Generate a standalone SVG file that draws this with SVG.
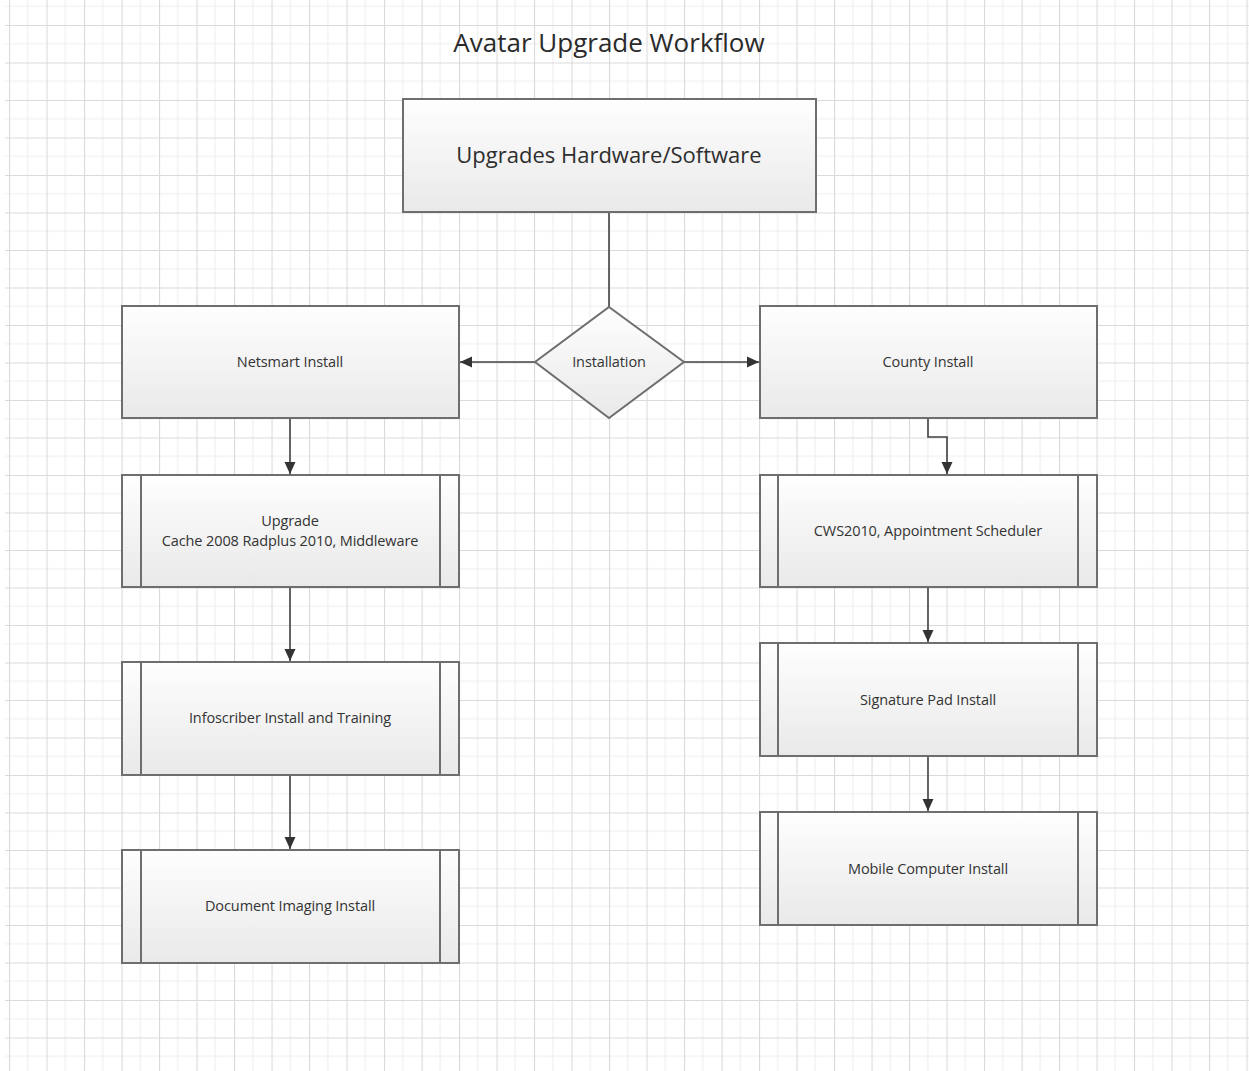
<svg xmlns="http://www.w3.org/2000/svg" width="1249" height="1071" viewBox="0 0 1249 1071">
<defs>
<pattern id="grid" patternUnits="userSpaceOnUse" x="9" y="25" width="37.5" height="37.5">
<path d="M18.75 0V37.5M0 18.75H37.5" stroke="#eeeeee" stroke-width="1.2" fill="none"/>
<path d="M0.5 0V37.5M0 0.5H37.5" stroke="#dadada" stroke-width="1.2" fill="none"/>
</pattern>
<linearGradient id="fill" x1="0" y1="0" x2="0" y2="1">
<stop offset="0" stop-color="#fefefe"/>
<stop offset="1" stop-color="#e9e9e9"/>
</linearGradient>
<marker id="arrow" viewBox="0 0 12 12" refX="12" refY="6" markerWidth="12" markerHeight="12" markerUnits="userSpaceOnUse" orient="auto">
<path d="M0 0.5L12 6L0 11.5z" fill="#333333"/>
</marker>
</defs>
<style>
.box{fill:url(#fill);stroke:#6e6e6e;stroke-width:2}
.inner{stroke:#6e6e6e;stroke-width:2;fill:none}
.lbl{font-family:"Open Sans","Noto Sans",sans-serif;font-size:14.5px;fill:#333333;text-anchor:middle;letter-spacing:-0.1px}
.conn{stroke:#404040;stroke-width:1.6;fill:none}
.arr{marker-end:url(#arrow)}
</style>
<rect width="1249" height="1071" fill="#ffffff"/>
<rect x="5" y="0" width="1244" height="1071" fill="url(#grid)"/>
<text x="609" y="52" font-family="'Open Sans','Noto Sans',sans-serif" font-size="26" fill="#2a2a2a" text-anchor="middle">Avatar Upgrade Workflow</text>

<g id="connectors">
<path class="conn" d="M609 212V307"/>
<path class="conn arr" d="M535 362H460"/>
<path class="conn arr" d="M684 362H759"/>
<path class="conn arr" d="M290 419V474"/>
<path class="conn arr" d="M290 588V661"/>
<path class="conn arr" d="M290 776V849"/>
<path class="conn arr" d="M928 419V437H947V474"/>
<path class="conn arr" d="M928 588V642"/>
<path class="conn arr" d="M928 757V811"/>
</g>

<g id="node-top">
<rect class="box" x="403" y="99" width="413" height="113"/>
<text x="609" y="163" font-family="'Open Sans','Noto Sans',sans-serif" font-size="22" fill="#2e2e2e" text-anchor="middle">Upgrades Hardware/Software</text>
</g>
<g id="node-installation">
<path class="box" d="M609 307L684 362L609 418L535 362Z"/>
<text class="lbl" x="609" y="367">Installation</text>
</g>
<g id="node-netsmart">
<rect class="box" x="122" y="306" width="337" height="112"/>
<text class="lbl" x="290" y="367">Netsmart Install</text>
</g>
<g id="node-county">
<rect class="box" x="760" y="306" width="337" height="112"/>
<text class="lbl" x="928" y="367">County Install</text>
</g>
<g id="node-upgrade">
<rect class="box" x="122" y="475" width="337" height="112"/>
<path class="inner" d="M141 475V587M440 475V587"/>
<text class="lbl" x="290" y="526">Upgrade</text>
<text class="lbl" x="290" y="546">Cache 2008 Radplus 2010, Middleware</text>
</g>
<g id="node-infoscriber">
<rect class="box" x="122" y="662" width="337" height="113"/>
<path class="inner" d="M141 662V775M440 662V775"/>
<text class="lbl" x="290" y="723">Infoscriber Install and Training</text>
</g>
<g id="node-docimaging">
<rect class="box" x="122" y="850" width="337" height="113"/>
<path class="inner" d="M141 850V963M440 850V963"/>
<text class="lbl" x="290" y="911">Document Imaging Install</text>
</g>
<g id="node-cws">
<rect class="box" x="760" y="475" width="337" height="112"/>
<path class="inner" d="M778 475V587M1078 475V587"/>
<text class="lbl" x="928" y="536">CWS2010, Appointment Scheduler</text>
</g>
<g id="node-signature">
<rect class="box" x="760" y="643" width="337" height="113"/>
<path class="inner" d="M778 643V756M1078 643V756"/>
<text class="lbl" x="928" y="705">Signature Pad Install</text>
</g>
<g id="node-mobile">
<rect class="box" x="760" y="812" width="337" height="113"/>
<path class="inner" d="M778 812V925M1078 812V925"/>
<text class="lbl" x="928" y="874">Mobile Computer Install</text>
</g>
</svg>
